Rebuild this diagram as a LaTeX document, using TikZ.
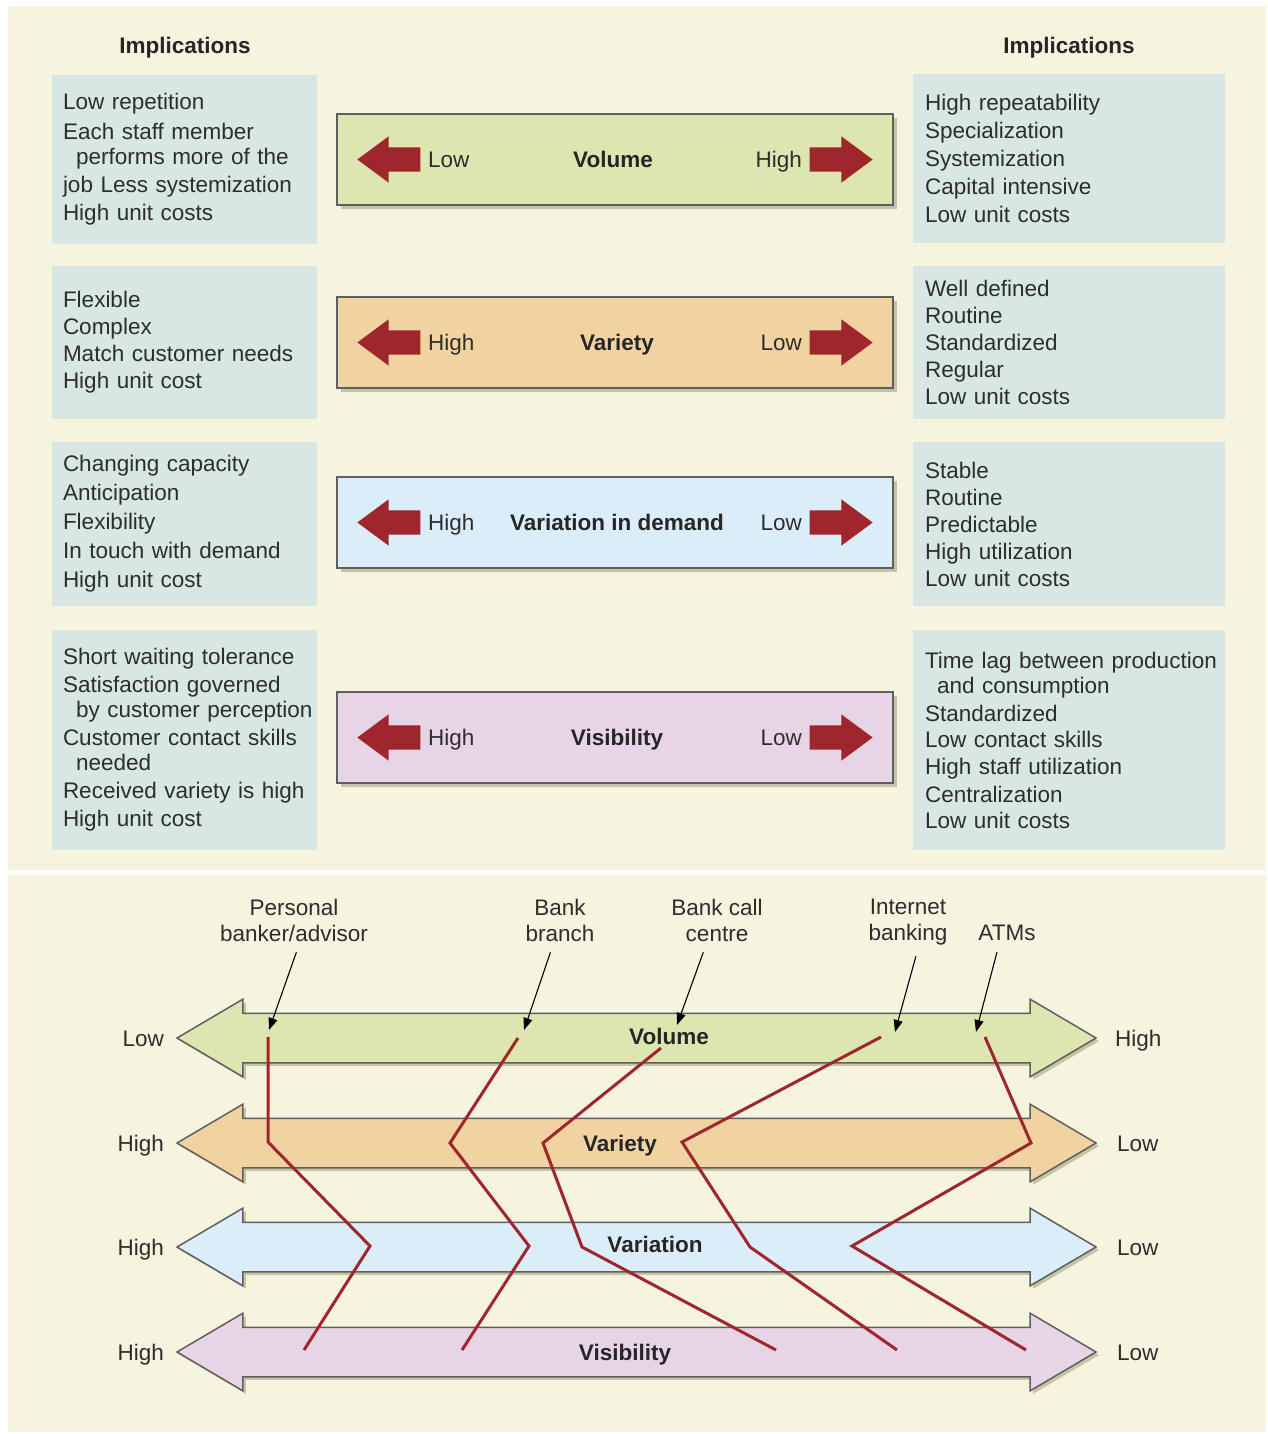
\documentclass[tikz,border=0pt]{standalone}
\usepackage{fontspec}
\setmainfont{Liberation Sans}
\usetikzlibrary{shapes.arrows,shadows,arrows.meta}

\definecolor{cream}{RGB}{246,243,222}
\definecolor{implbg}{RGB}{216,231,228}
\definecolor{volbg}{RGB}{221,230,177}
\definecolor{varbg}{RGB}{241,211,162}
\definecolor{demandbg}{RGB}{220,237,250}
\definecolor{visbg}{RGB}{231,212,230}
\definecolor{darkred}{RGB}{158,38,44}
\definecolor{txt}{RGB}{45,45,45}
\definecolor{edge}{RGB}{95,95,95}
\definecolor{shade}{RGB}{198,196,166}

\tikzset{
  every node/.style={font=\fontsize{22.5}{28}\selectfont, text=txt},
  head/.style={font=\fontsize{22.5}{28}\selectfont\bfseries, text=black!85},
  tag/.style={inner sep=0pt, text height=16pt, text depth=0pt},
  tagb/.style={tag, font=\fontsize{22.5}{28}\selectfont\bfseries, text=black!85},
  impl/.style={fill=implbg, align=left, inner xsep=11pt, inner ysep=0pt,
    text width=243pt, minimum height=#1},
  implr/.style={impl=#1, inner xsep=12pt, text width=288pt},
  band/.style={draw=edge, line width=1.5pt, minimum width=556pt, minimum height=91pt,
    drop shadow={shadow xshift=4pt, shadow yshift=-4pt, fill=shade, opacity=1}},
  redL/.style={single arrow, shape border rotate=180, fill=darkred,
    inner xsep=0pt, inner ysep=12pt,
    minimum height=63pt, single arrow head extend=11pt,
    single arrow tip angle=73, anchor=tip},
  redR/.style={redL, shape border rotate=0},
  dbl/.style={double arrow, draw=edge, line width=1.5pt, inner xsep=0pt, inner ysep=24pt,
    minimum height=919pt, double arrow head extend=14pt,
    double arrow tip angle=61,
    drop shadow={shadow xshift=3pt, shadow yshift=-3pt, fill=shade, opacity=1}},
  svc/.style={align=center, font=\fontsize{22.5}{26}\selectfont},
  pointer/.style={->, line width=1.1pt, shorten <=8pt},
  profile/.style={draw=darkred, line width=3pt}
}

\begin{document}
\begin{tikzpicture}[x=1pt, y=-1pt, >={Triangle[length=12pt,width=9pt]}]
\useasboundingbox (0,0) rectangle (1268,1434);
\fill[white] (0,0) rectangle (1268,1434);
\fill[cream] (8,6) rectangle (1266,870);
\fill[cream] (8,875) rectangle (1266,1432);

% implications, left and right
\node[head] (implL) at (185,48) {Implications};
\node[head] (implR) at (1069,48) {Implications};

\node[impl=169pt] (l1) at (184.5,159.5) {Low repetition\\[2pt]
  Each staff member\\[-3pt] \hspace*{13pt}performs more of the\\
  job Less systemization\\ High unit costs};
\node[impl=153pt] (l2) at (184.5,342.5) {Flexible\\[-1pt] Complex\\[-1pt]
  Match customer needs\\[-1pt] High unit cost};
\node[impl=164pt] (l3) at (184.5,524) {Changing capacity\\[1pt] Anticipation\\[1pt]
  Flexibility\\[1pt] In touch with demand\\[1pt] High unit cost};
\node[impl=220pt] (l4) at (184.5,740) {Short waiting tolerance\\
  Satisfaction governed\\[-3pt] \hspace*{13pt}\mbox{by customer perception}\\
  Customer contact skills\\[-3pt] \hspace*{13pt}needed\\
  Received variety is high\\ High unit cost};

\node[implr=169pt] (r1) at (1069,158.5) {High repeatability\\ Specialization\\
  Systemization\\ Capital intensive\\ Low unit costs};
\node[implr=153pt] (r2) at (1069,342.5) {Well defined\\[-1pt] Routine\\[-1pt]
  Standardized\\[-1pt] Regular\\[-1pt] Low unit costs};
\node[implr=164pt] (r3) at (1069,524) {Stable\\[-1pt] Routine\\[-1pt]
  Predictable\\[-1pt] High utilization\\[-1pt] Low unit costs};
\node[implr=220pt] (r4) at (1069,740) {\mbox{Time lag between production}\\[-3pt]
  \hspace*{12pt}and consumption\\ Standardized\\[-2pt] Low contact skills\\[-1pt]
  High staff utilization\\ Centralization\\[-2pt] Low unit costs};

% the four dimensions
\node[band, fill=volbg] (vol) at (615,159.5) {};
\node[redL] (volA) at (357,159.5) {};
\node[redR] (volB) at (873,159.5) {};
\node[tag, anchor=west] (volLo) at (428,159.5) {Low};
\node[tagb] (volT) at (613,159.5) {Volume};
\node[tag, anchor=east] (volHi) at (802,159.5) {High};

\node[band, fill=varbg] (vty) at (615,342.5) {};
\node[redL] (vtyA) at (357,342.5) {};
\node[redR] (vtyB) at (873,342.5) {};
\node[tag, anchor=west] (vtyHi) at (428,342.5) {High};
\node[tagb] (vtyT) at (617,342.5) {Variety};
\node[tag, anchor=east] (vtyLo) at (802,342.5) {Low};

\node[band, fill=demandbg] (dem) at (615,522.5) {};
\node[redL] (demA) at (357,522.5) {};
\node[redR] (demB) at (873,522.5) {};
\node[tag, anchor=west] (demHi) at (428,522.5) {High};
\node[tagb] (demT) at (617,522.5) {Variation in demand};
\node[tag, anchor=east] (demLo) at (802,522.5) {Low};

\node[band, fill=visbg] (vis) at (615,737.5) {};
\node[redL] (visA) at (357,737.5) {};
\node[redR] (visB) at (873,737.5) {};
\node[tag, anchor=west] (visHi) at (428,737.5) {High};
\node[tagb] (visT) at (617,737.5) {Visibility};
\node[tag, anchor=east] (visLo) at (802,737.5) {Low};

% lower part: banking services
\node[dbl, fill=volbg] (bvol) at (636.5,1038) {};
\node[dbl, fill=varbg] (bvty) at (636.5,1143) {};
\node[dbl, fill=demandbg] (bdem) at (636.5,1247) {};
\node[dbl, fill=visbg] (bvis) at (636.5,1352) {};

\node[tag, anchor=east] (bvolL) at (164,1038) {Low};
\node[tag, anchor=east] (bvtyL) at (164,1143) {High};
\node[tag, anchor=east] (bdemL) at (164,1247) {High};
\node[tag, anchor=east] (bvisL) at (164,1352) {High};
\node[tag, anchor=west] (bvolR) at (1115,1038) {High};
\node[tag, anchor=west] (bvtyR) at (1117,1143) {Low};
\node[tag, anchor=west] (bdemR) at (1117,1247) {Low};
\node[tag, anchor=west] (bvisR) at (1117,1352) {Low};

\draw[profile] (268,1037) -- (268,1142) -- (370,1246) -- (304,1350);
\draw[profile] (518,1038) -- (450,1143) -- (529,1246) -- (462,1350);
\draw[profile] (661,1048) -- (543,1143) -- (582,1247) -- (776,1350);
\draw[profile] (881,1037) -- (682,1142) -- (750,1247) -- (897,1350);
\draw[profile] (985,1037) -- (1031,1143) -- (852,1246) -- (1026,1350);

\node[tagb] (bvolT) at (669,1036) {Volume};
\node[tagb] (bvtyT) at (620,1143) {Variety};
\node[tagb] (bdemT) at (655,1244) {Variation};
\node[tagb] (bvisT) at (625,1352) {Visibility};

\node[svc] (per) at (294,920) {Personal\\banker/advisor};
\node[svc] (branch) at (560,920) {Bank\\branch};
\node[svc] (call) at (717,920) {Bank call\\centre};
\node[svc] (net) at (908,922) {Internet\\banking};
\node[svc] (atm) at (1007,933) {ATMs};

\coordinate (perTip) at (269,1030);
\coordinate (branchTip) at (524,1030);
\coordinate (callTip) at (677,1025);
\coordinate (netTip) at (895,1032);
\coordinate (atmTip) at (976,1032);

\draw[pointer] ([xshift=5pt]per.south) -- (perTip);
\draw[pointer] ([xshift=-7pt]branch.south) -- (branchTip);
\draw[pointer] ([xshift=-11pt]call.south) -- (callTip);
\draw[pointer] ([xshift=10pt]net.south) -- (netTip);
\draw[pointer] ([xshift=-8pt]atm.south) -- (atmTip);
\end{tikzpicture}
\end{document}
